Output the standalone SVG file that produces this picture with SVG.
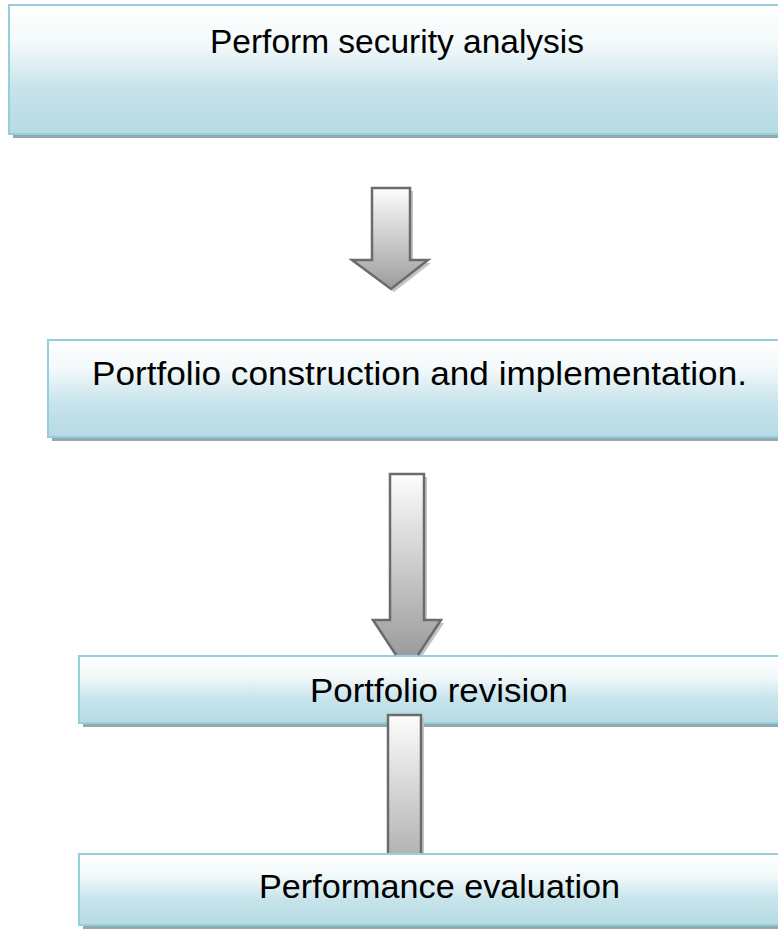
<svg xmlns="http://www.w3.org/2000/svg" width="778" height="939" viewBox="0 0 778 939">
<defs>
<linearGradient id="boxGrad" x1="0" y1="0" x2="0" y2="1">
<stop offset="0" stop-color="#ffffff"/>
<stop offset="0.3" stop-color="#f3f9fa"/>
<stop offset="0.65" stop-color="#c6e3eb"/>
<stop offset="1" stop-color="#b6dbe4"/>
</linearGradient>
<linearGradient id="arrGrad" x1="0" y1="0" x2="0" y2="1">
<stop offset="0" stop-color="#fdfdfd"/>
<stop offset="1" stop-color="#9c9c9c"/>
</linearGradient>
<linearGradient id="arrGrad3" x1="0" y1="0" x2="0" y2="1">
<stop offset="0" stop-color="#fdfdfd"/>
<stop offset="1" stop-color="#b4b4b4"/>
</linearGradient>
<style>
.shadow{fill:#92a9af}
.box{fill:url(#boxGrad);stroke:#93cfdd;stroke-width:2}
.lbl{font-family:"Liberation Sans",Arial,sans-serif;font-size:33px;fill:#000}
.ashadow{fill:#c4c4c4}
.afill{fill:url(#arrGrad)}
.afill3{fill:url(#arrGrad3)}
.astroke{fill:none;stroke:#6b6b6b;stroke-width:2.5;stroke-linejoin:miter}
</style>
</defs>
<g id="node1">
<rect class="shadow" x="13" y="9" width="800" height="129"/>
<rect class="box" x="9" y="5" width="800" height="129"/>
<text class="lbl" x="210" y="53" textLength="374" lengthAdjust="spacingAndGlyphs">Perform security analysis</text>
</g>
<g id="node2">
<rect class="shadow" x="52" y="344" width="760" height="97"/>
<rect class="box" x="48" y="340" width="760" height="97"/>
<text class="lbl" x="92" y="385" textLength="655" lengthAdjust="spacingAndGlyphs">Portfolio construction and implementation.</text>
</g>
<g id="node3">
<rect class="shadow" x="83" y="660" width="730" height="67"/>
<rect class="box" x="79" y="656" width="730" height="67"/>
<text class="lbl" x="310" y="702" textLength="258" lengthAdjust="spacingAndGlyphs">Portfolio revision</text>
</g>
<g id="node4">
<rect class="shadow" x="83" y="858" width="730" height="71"/>
<rect class="box" x="79" y="854" width="730" height="71"/>
<text class="lbl" x="259" y="898" textLength="361" lengthAdjust="spacingAndGlyphs">Performance evaluation</text>
</g>
<g id="connectors">
<g id="arrow1">
<path class="ashadow" d="M375,191 H413 V263 H431 L394,292 L355,263 H375 Z"/>
<path class="afill" d="M372,188 H410 V260 H428 L391,289 L352,260 H372 Z"/>
<path class="astroke" d="M372,188 H410 V260 H428 L391,289 L352,260 H372 Z"/>
</g>
<g id="arrow2">
<path class="ashadow" d="M393,477 H427 V623 H444 L423,655 H400 L376,623 H393 Z"/>
<path class="afill" d="M390,474 H424 V620 H441 L418,655 H396 L373,620 H390 Z"/>
<path class="astroke" d="M396,655 L373,620 H390 V474 H424 V620 H441 L418,655"/>
</g>
<g id="arrow3">
<rect class="ashadow" x="391" y="718" width="33" height="135"/>
<rect class="afill3" x="388" y="715" width="33" height="138"/>
<path class="astroke" d="M388,853 V715 H421 V853"/>
</g>
</g>
</svg>
